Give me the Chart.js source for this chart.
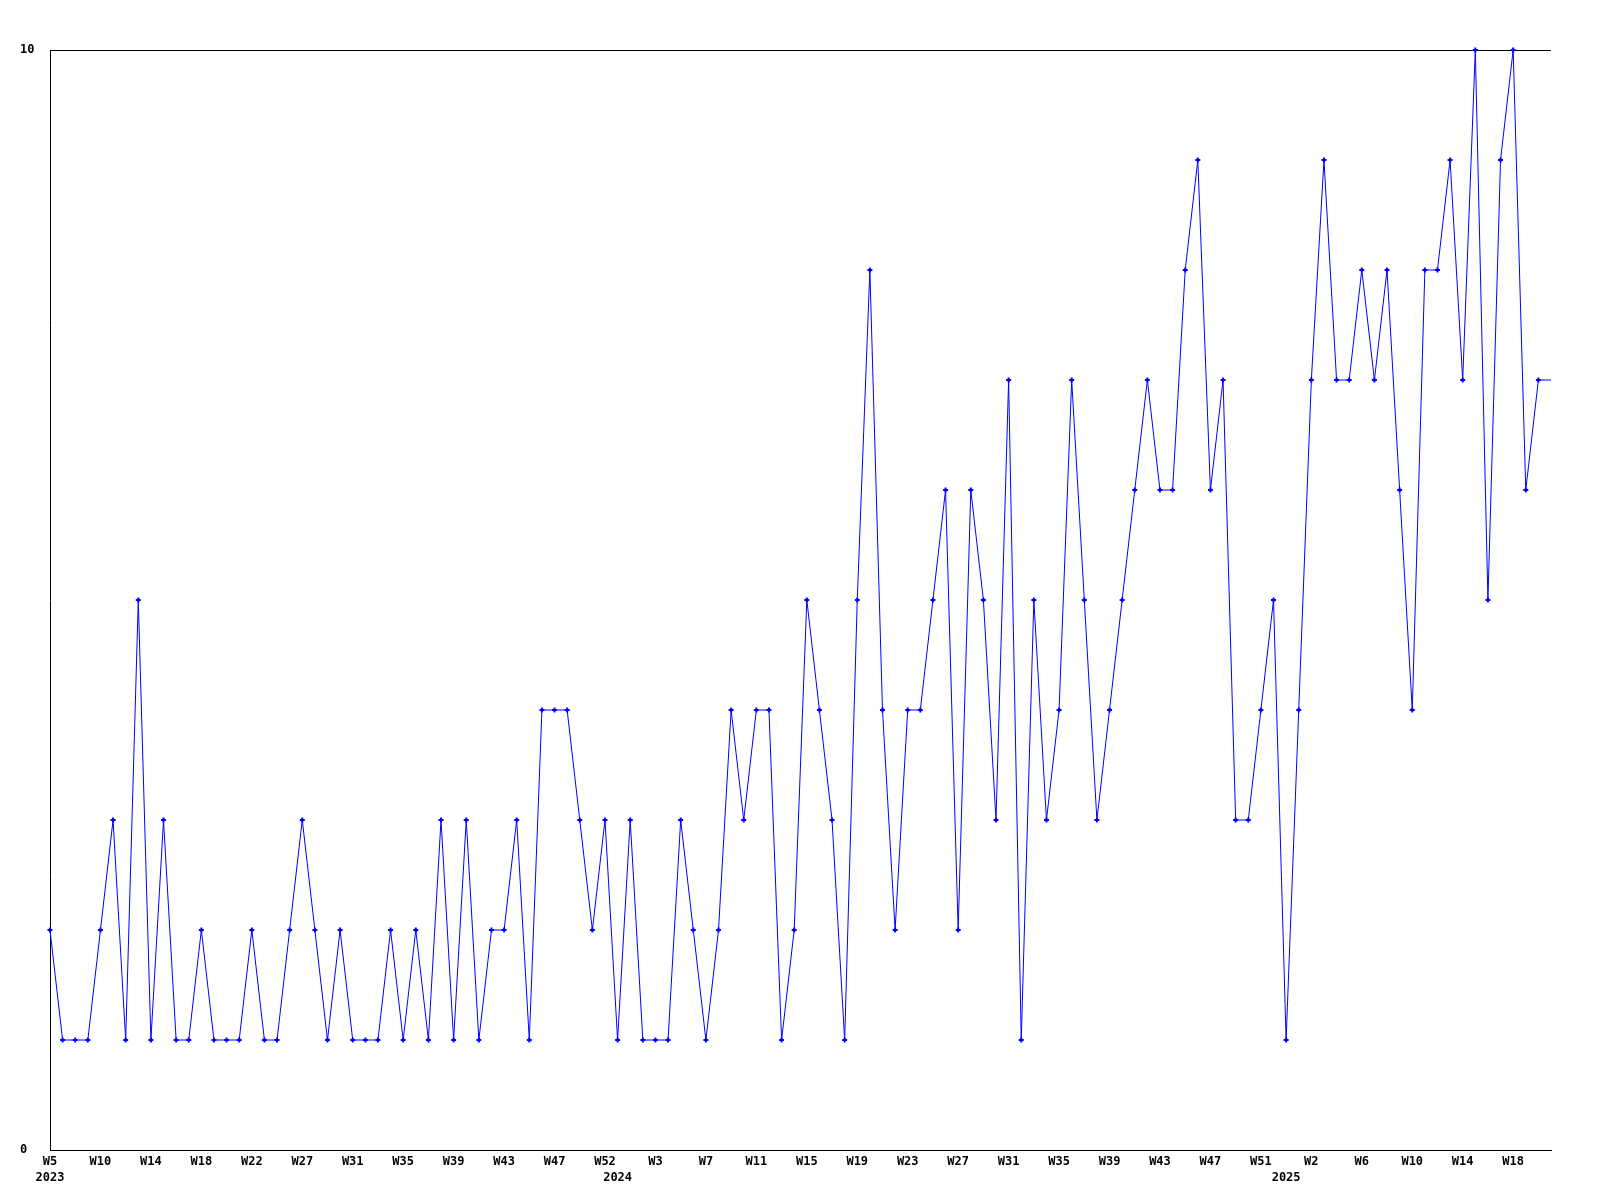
<!DOCTYPE html>
<html>
<head>
<meta charset="utf-8">
<script src="https://cdn.jsdelivr.net/npm/chart.js@4/dist/chart.umd.min.js"></script>
<style>
    html, body { margin: 0; padding: 0; background: #ffffff; }
</style>
</head>
<body>
<canvas id="chartWeeks" width="1600" height="1200"></canvas>
<script>
// weekly counts, W5 2023 .. W21 2025
const counts = [
    2, 1, 1, 1, 2, 3, 1, 5, 1, 3, 1, 1, 2, 1, 1, 1, 2, 1, 1, 2,
    3, 2, 1, 2, 1, 1, 1, 2, 1, 2, 1, 3, 1, 3, 1, 2, 2, 3, 1, 4,
    4, 4, 3, 2, 3, 1, 3, 1, 1, 1, 3, 2, 1, 2, 4, 3, 4, 4, 1, 2,
    5, 4, 3, 1, 5, 8, 4, 2, 4, 4, 5, 6, 2, 6, 5, 3, 7, 1, 5, 3,
    4, 7, 5, 3, 4, 5, 6, 7, 6, 6, 8, 9, 6, 7, 3, 3, 4, 5, 1, 4,
    7, 9, 7, 7, 8, 7, 8, 6, 4, 8, 8, 9, 7, 10, 5, 9, 10, 6, 7, 7,
];

// one label every 4 weeks
const weekTicks = [
    "W5", "W10", "W14", "W18", "W22", "W27", "W31", "W35", "W39", "W43",
    "W47", "W52", "W3", "W7", "W11", "W15", "W19", "W23", "W27", "W31",
    "W35", "W39", "W43", "W47", "W51", "W2", "W6", "W10", "W14", "W18",
];
const tickEvery = 4;

// year shown under the first week of each year
const years = ["2023", "2024", "2025"];
const yearStart = [0, 45, 98];

const yTicks = [0, 10];

const axisFont = { family: "DejaVu Sans Mono", size: 12, weight: "bold", lineHeight: 1.3 };

function weekLabel(index) {
    const lines = [index % tickEvery === 0 ? weekTicks[index / tickEvery] || "" : ""];
    const y = yearStart.indexOf(index);
    if (y >= 0) lines.push(years[y]);
    return lines.length > 1 ? lines : lines[0];
}

const dataWeeks = {
    labels: counts.map((c, i) => i),
    datasets: [
        {
            data: counts,
            borderColor: "#0000ff",
            backgroundColor: "#0000ff",
            borderWidth: 1,
            tension: 0,
            fill: false,
            clip: false,
            pointStyle: "cross",
            pointRadius: (ctx) => (ctx.dataIndex === counts.length - 1 ? 0 : 2.5),
            pointBorderWidth: 2,
            pointBorderColor: "#0000ff",
            pointHoverRadius: 3,
        },
    ],
};

const configWeeks = {
    type: "line",
    data: dataWeeks,
    options: {
        responsive: false,
        animation: false,
        layout: {
            padding: { left: 20, right: 49, top: 50, bottom: 0 },
        },
        plugins: {
            legend: { display: false },
            tooltip: { enabled: false },
        },
        scales: {
            x: {
                offset: false,
                grid: { display: false, drawTicks: false },
                border: { display: true, color: "#000000", width: 1 },
                afterFit: (scale) => { scale.height = 50; },
                ticks: {
                    autoSkip: false,
                    maxRotation: 0,
                    minRotation: 0,
                    padding: 4,
                    color: "#000000",
                    font: axisFont,
                    callback: (value, index) => weekLabel(index),
                },
            },
            y: {
                min: 0,
                max: 10,
                afterFit: (scale) => { scale.width = 30; },
                afterBuildTicks: (scale) => {
                    scale.ticks = yTicks.map((v) => ({ value: v }));
                },
                grid: { display: true, color: "#000000", lineWidth: 1, drawTicks: false },
                border: { display: true, color: "#000000", width: 1 },
                ticks: {
                    crossAlign: "far",
                    padding: 0,
                    color: "#000000",
                    font: axisFont,
                },
            },
        },
    },
};

const chartWeeks = new Chart(document.getElementById("chartWeeks"), configWeeks);
</script>
</body>
</html>
